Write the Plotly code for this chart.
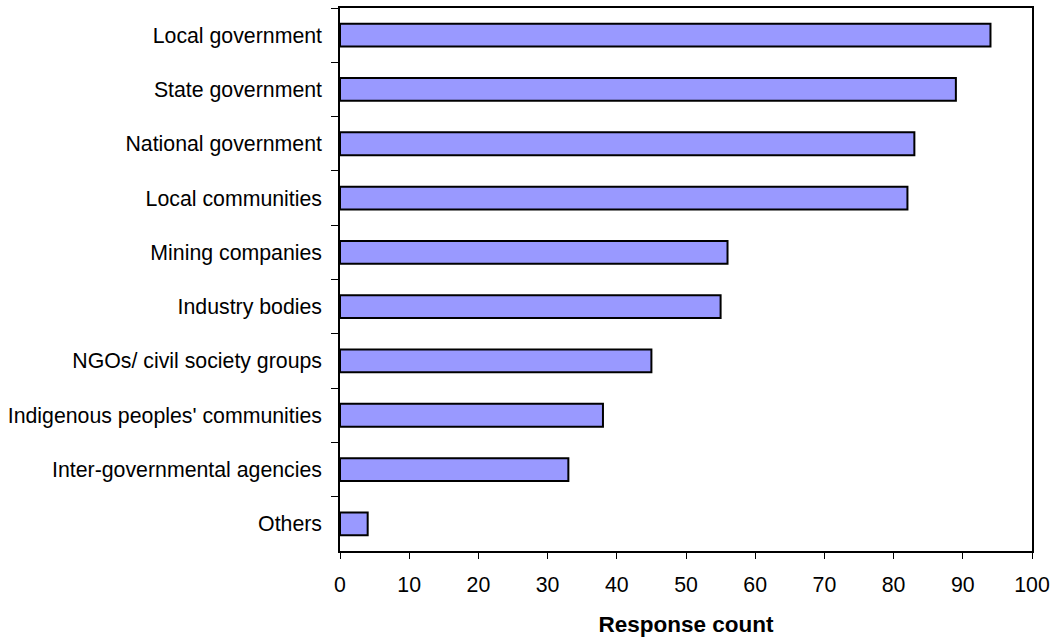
import plotly.graph_objects as go

categories = [
    "Local government",
    "State government",
    "National government",
    "Local communities",
    "Mining companies",
    "Industry bodies",
    "NGOs/ civil society groups",
    "Indigenous peoples' communities",
    "Inter-governmental agencies",
    "Others",
]
counts = [94, 89, 83, 82, 56, 55, 45, 38, 33, 4]
x_ticks = [0, 10, 20, 30, 40, 50, 60, 70, 80, 90, 100]

fig = go.Figure(
    go.Bar(
        x=counts,
        y=categories,
        orientation="h",
        width=0.42,
        marker=dict(color="#9999FF", line=dict(color="#000000", width=2)),
    )
)

font_family = "Liberation Sans, Arial, sans-serif"

fig.update_layout(
    width=1051,
    height=637,
    margin=dict(l=340, r=19, t=8, b=86),
    paper_bgcolor="white",
    plot_bgcolor="white",
    showlegend=False,
    font=dict(family=font_family, size=21.3, color="black"),
    xaxis=dict(
        range=[0, 100],
        tickvals=x_ticks,
        ticks="outside",
        ticklen=6,
        tickcolor="black",
        tickwidth=1,
        showgrid=False,
        zeroline=False,
        showline=True,
        linecolor="black",
        linewidth=1.5,
        mirror=True,
        automargin=False,
        tickfont=dict(size=21.3),
        ticklabelstandoff=8,
        title=dict(text="<b>Response count</b>", font=dict(size=22.5), standoff=22),
    ),
    yaxis=dict(
        categoryorder="array",
        categoryarray=categories,
        autorange="reversed",
        ticks="outside",
        tickson="boundaries",
        ticklen=7,
        tickcolor="black",
        tickwidth=1,
        showgrid=False,
        showline=True,
        linecolor="black",
        linewidth=1.5,
        mirror=True,
        automargin=False,
        tickfont=dict(size=21.3),
        ticklabelstandoff=12,
    ),
)

fig.write_html(
    "out.html",
    config={"displayModeBar": False},
    post_script="document.body.style.margin='0';document.body.style.overflow='hidden';",
)
